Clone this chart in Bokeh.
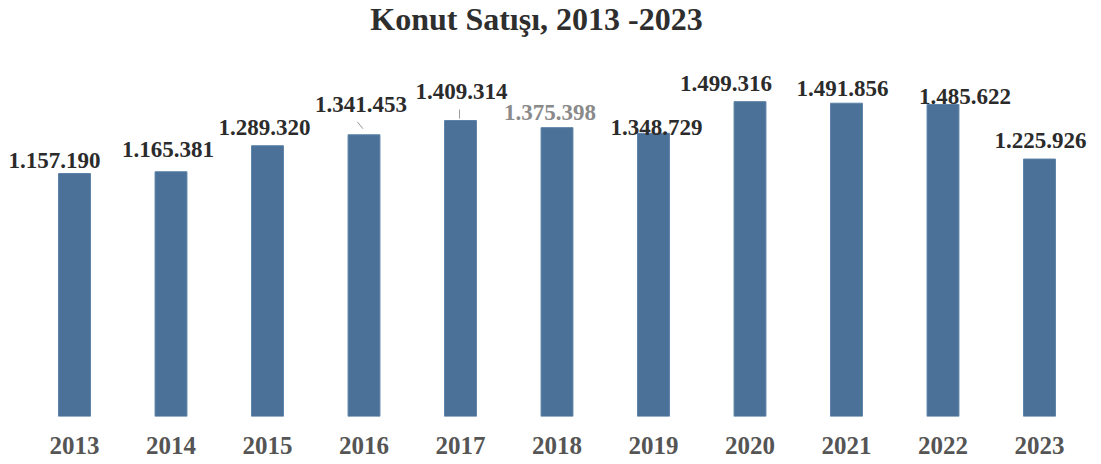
from bokeh.plotting import figure
from bokeh.models import Range1d, FixedTicker, Label, ColumnDataSource
from bokeh.core.properties import value
from bokeh.embed import file_html
from bokeh.resources import INLINE

# ---- data ----
years = [2013, 2014, 2015, 2016, 2017, 2018, 2019, 2020, 2021, 2022, 2023]
year_labels = ["2013", "2014", "2015", "2016", "2017", "2018", "2019", "2020", "2021", "2022", "2023"]
sales = [1157190, 1165381, 1289320, 1341453, 1409314, 1375398, 1348729, 1499316, 1491856, 1485622, 1225926]
title_text = "Konut Satışı, 2013 -2023"

# ---- label styling (pixel offsets relative to bar top centre) ----
label_dx = [-20, -3, -3, -3, 1, -7, 3, -24, -4, 22, 1]
label_dy = [-5, -14, -10, -22, -21, -7, 2, -10, -7, 0, -11]
base_shift = -8
label_dy = [d + base_shift for d in label_dy]
label_colors = ["#2b2b2b"] * 11
label_colors[5] = "#8a8a8a"

labels = [f"{v:,}".replace(",", ".") for v in sales]

W, H = 1101, 464
frame_h = 416
px_per_unit = 210 / 1e6

x_start = 2013 - 74 / 96.5
x_end = x_start + W / 96.5

p = figure(width=W, height=H, output_backend="svg", toolbar_location=None,
           x_range=Range1d(x_start, x_end),
           y_range=Range1d(0, frame_h / px_per_unit),
           min_border_left=0, min_border_right=0, min_border_top=0,
           min_border_bottom=H - frame_h)
p.background_fill_color = "white"
p.border_fill_color = "white"
p.outline_line_color = None
p.xgrid.visible = False
p.ygrid.visible = False
p.yaxis.visible = False

p.vbar(x=years, top=sales, bottom=0, width=0.33,
       fill_color="#4b7198", line_color="#5a80a6", line_width=1)

src = ColumnDataSource(dict(x=years, y=sales, text=labels, dx=label_dx,
                            dy=label_dy, c=label_colors))
p.text(x="x", y="y", text="text", x_offset="dx", y_offset="dy",
       text_color="c", source=src,
       text_font=value("Liberation Serif"), text_font_style="bold",
       text_font_size="23px", text_align="center", text_baseline="alphabetic")

# small leader lines for 2016 and 2017 labels
i16 = years.index(2016)
i17 = years.index(2017)
p.segment(x0=[years[i16] - 0.07, years[i17] - 0.01],
          y0=[sales[i16] + 13 / px_per_unit, sales[i17] + 11 / px_per_unit],
          x1=[years[i16] - 0.01, years[i17] - 0.01],
          y1=[sales[i16] + 6 / px_per_unit, sales[i17] + 2 / px_per_unit],
          line_color="#9a9a9a", line_width=1)

ax = p.xaxis[0]
ax.ticker = FixedTicker(ticks=years)
ax.major_label_overrides = {y: s for y, s in zip(years, year_labels)}
ax.axis_line_color = None
ax.major_tick_line_color = None
ax.minor_tick_line_color = None
ax.major_tick_out = 0
ax.major_tick_in = 0
ax.major_label_standoff = 20
ax.major_label_text_font = "Liberation Serif"
ax.major_label_text_font_style = "bold"
ax.major_label_text_font_size = "25px"
ax.major_label_text_color = "#555555"

title = Label(x=536, y=frame_h - 18, x_units="screen", y_units="screen",
              text=title_text, text_font="Liberation Serif", text_font_style="bold",
              text_font_size="32px", text_color="#2e2e2e",
              text_align="center", text_baseline="alphabetic")
p.add_layout(title)

open("out.html", "w").write(file_html(p, INLINE))
